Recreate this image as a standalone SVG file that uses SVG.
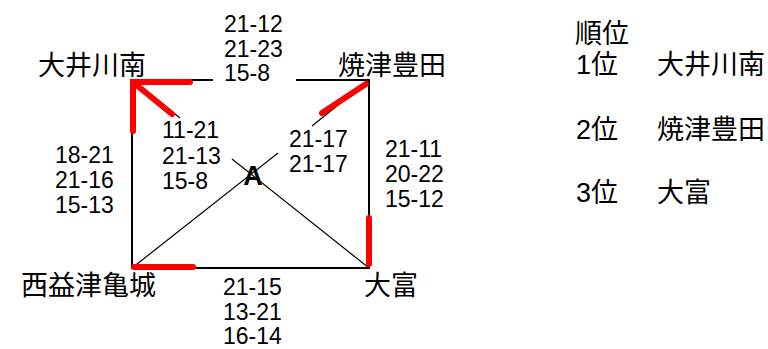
<svg xmlns="http://www.w3.org/2000/svg" width="768" height="349" viewBox="0 0 768 349">
<style>
.t{font-family:"Liberation Sans","Noto Sans CJK JP",sans-serif;font-size:23px;fill:#000}
.j{font-family:"Noto Sans CJK JP",sans-serif;font-size:27px;fill:#000}
.r{font-family:"Liberation Sans","Noto Sans CJK JP",sans-serif;font-size:27px;fill:#000}
.e{stroke:#000;stroke-width:2;fill:none}
.d{stroke:#000;stroke-width:1.2;fill:none}
.w{stroke:#f00;stroke-width:6;stroke-linecap:round;fill:none}
</style>
<rect width="768" height="349" fill="#fff"/>
<g id="connectors">
<path class="e" d="M131,80 H213 M296,80 H369 V268 H132 V80"/>
<path class="d" d="M132,80 L180,118 M232,159 L369,268"/>
<path class="d" d="M369,80 L312,126 M278,153 L132,268"/>
<path class="w" d="M133,131 V82 H190"/>
<path class="w" d="M134,83 L172,114"/>
<path class="w" d="M366,84 L322,113"/>
<path class="w" d="M369,218 V264"/>
<path class="w" d="M134,267 H193"/>
</g>
<g id="center"><text x="253" y="185" text-anchor="middle" style="font-family:'Liberation Sans',sans-serif;font-size:27px;font-weight:bold">A</text></g>
<g id="n-oigawaminami"><text class="j" x="38" y="75">大井川南</text></g>
<g id="n-yaizutoyoda"><text class="j" x="338" y="75">焼津豊田</text></g>
<g id="n-mashizukameshiro"><text class="j" x="21" y="295">西益津亀城</text></g>
<g id="n-otomi"><text class="j" x="364" y="295">大富</text></g>
<g id="s-top"><text class="t" x="224" y="32">21-12</text><text class="t" x="224" y="57">21-23</text><text class="t" x="224" y="81">15-8</text></g>
<g id="s-left"><text class="t" x="55" y="163">18-21</text><text class="t" x="55" y="188">21-16</text><text class="t" x="55" y="213">15-13</text></g>
<g id="s-diag1"><text class="t" x="162" y="138">11-21</text><text class="t" x="162" y="164">21-13</text><text class="t" x="162" y="189">15-8</text></g>
<g id="s-diag2"><text class="t" x="289" y="147">21-17</text><text class="t" x="289" y="172">21-17</text></g>
<g id="s-right"><text class="t" x="385" y="157">21-11</text><text class="t" x="385" y="182">20-22</text><text class="t" x="385" y="207">15-12</text></g>
<g id="s-bottom"><text class="t" x="223" y="295">21-15</text><text class="t" x="223" y="320">13-21</text><text class="t" x="223" y="344">16-14</text></g>
<g id="ranking">
<text class="j" x="575" y="43">順位</text>
<text class="r" x="576" y="74">1位</text><text class="j" x="657" y="74">大井川南</text>
<text class="r" x="576" y="139">2位</text><text class="j" x="657" y="139">焼津豊田</text>
<text class="r" x="576" y="202">3位</text><text class="j" x="657" y="202">大富</text>
</g>
</svg>
